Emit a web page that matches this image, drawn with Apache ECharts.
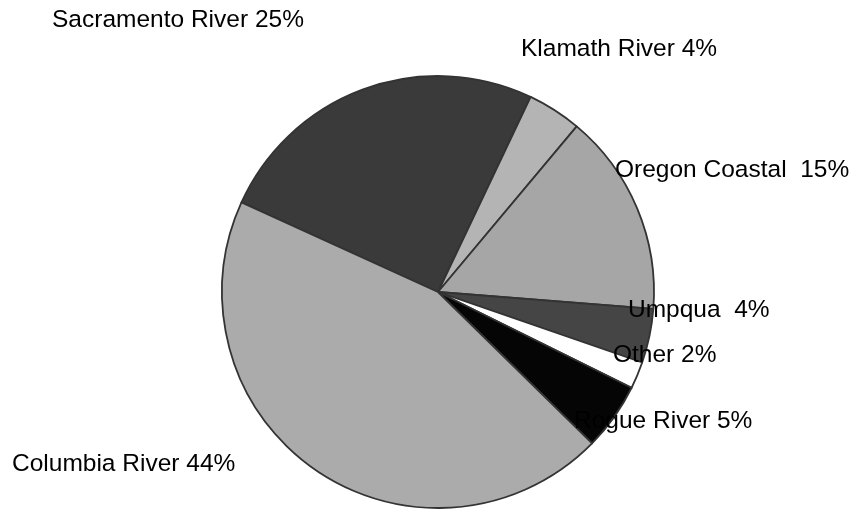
<!DOCTYPE html>
<html>
<head>
<meta charset="utf-8">
<script src="https://cdn.jsdelivr.net/npm/echarts@6/dist/echarts.min.js"></script>
<style>html,body{margin:0;padding:0;background:#fff}#c{width:861px;height:515px}</style>
</head>
<body>
<div id="c"></div>
<script>
// Data
const categories = ['Sacramento River', 'Klamath River', 'Oregon Coastal', 'Umpqua', 'Other', 'Rogue River', 'Columbia River'];
const shares = [25, 4, 15, 4, 2, 5, 44];
const sliceColors = ['#3a3a3a', '#b4b4b4', '#a6a6a6', '#454545', '#ffffff', '#050505', '#ababab'];
const labelGaps = [' ', ' ', '  ', '  ', ' ', ' ', ' '];

// Label anchor points (left x, vertical middle y) in pixels
const labelAnchors = [[52, 20], [521, 49], [615, 170], [628, 310], [613, 355], [574, 421], [12, 464]];

const chart = echarts.init(document.getElementById('c'), null, {renderer: 'canvas'});
chart.setOption({
  animation: false,
  backgroundColor: '#ffffff',
  series: [{
    type: 'pie',
    center: [438, 292],
    radius: [0, 216],
    startAngle: 155.5,
    clockwise: true,
    avoidLabelOverlap: false,
    emphasis: {disabled: true},
    itemStyle: {borderColor: '#333333', borderWidth: 1.8},
    label: {
      show: true,
      position: 'outside',
      color: '#000',
      fontFamily: 'Liberation Sans, Arial, sans-serif',
      fontSize: 24.5,
      formatter: p => p.name + labelGaps[p.dataIndex] + p.value + '%'
    },
    labelLine: {show: false},
    labelLayout: p => ({
      x: labelAnchors[p.dataIndex][0],
      y: labelAnchors[p.dataIndex][1],
      align: 'left',
      verticalAlign: 'middle',
      hideOverlap: false
    }),
    data: categories.map((n, i) => ({name: n, value: shares[i], itemStyle: {color: sliceColors[i]}}))
  }]
});
</script>
</body>
</html>
